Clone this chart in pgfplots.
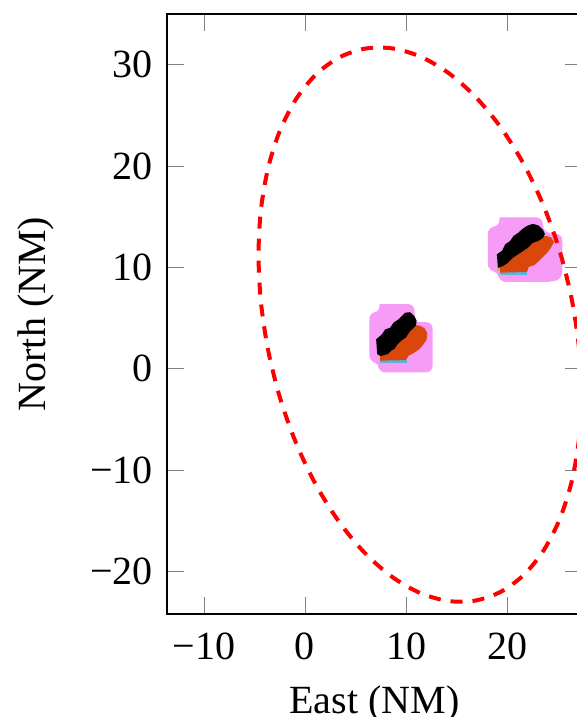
\documentclass[border=0pt]{standalone}
\usepackage{fontspec}
\setmainfont{Liberation Serif}
\usepackage{pgfplots}
\pgfplotsset{compat=1.18}
\definecolor{cmag}{RGB}{246,156,246}
\definecolor{corange}{RGB}{217,72,10}
\definecolor{ccyan}{RGB}{90,180,220}
\definecolor{cyel}{RGB}{200,190,60}
\begin{document}
\begin{tikzpicture}
\useasboundingbox (-41.75pt,-25.75pt) rectangle (102.5pt,153.5pt);
\clip (-41.75pt,-25.75pt) rectangle (102.5pt,153.5pt);
\begin{axis}[
  at={(0,0)}, anchor=south west,
  scale only axis, width=103.7pt, height=150pt,
  xmin=-13.66, xmax=27.4, ymin=-24.2, ymax=35,
  xtick={-10,0,10,20}, xticklabels={−10,0,10,20},
  ytick={-20,-10,0,10,20,30}, yticklabels={−20,−10,0,10,20,30},
  xticklabel style={yshift=-1.2pt},
  xlabel={East (NM)}, ylabel={North (NM)},
  xlabel style={at={(axis description cs:0.5,0)}, anchor=base, yshift=-24.9pt},
  ylabel style={at={(axis description cs:-0.317,0.5)}, anchor=center},
  no markers,
]
% cluster 1
\addplot[fill=cmag, draw=cmag, line width=0.3pt, rounded corners=1.5pt] coordinates {(7.43,6.32) (10.79,6.32) (10.79,4.54) (12.57,4.54) (12.57,-0.30) (7.33,-0.30) (7.33,0.69) (6.44,0.69) (6.44,5.53) (7.43,5.53) (7.43,6.32)};
\addplot[fill=ccyan, draw=none] coordinates {(7.43,0.58) (10.07,0.58) (10.07,0.85) (7.43,0.85)};
\addplot[fill=cyel, draw=none] coordinates {(7.10,1.21) (7.38,1.21) (7.38,2.75) (7.10,2.75)};
\addplot[fill=corange, draw=none] coordinates {(7.43,1.45) (8.09,1.70) (8.42,1.95) (8.74,2.15) (9.08,2.60) (9.41,2.95) (9.90,3.30) (10.23,3.70) (10.56,4.00) (10.89,4.30) (11.39,4.25) (11.85,3.98) (12.10,3.52) (12.03,2.86) (11.66,2.32) (11.26,1.88) (10.76,1.55) (10.26,1.30) (10.00,0.85) (7.43,0.80)};
\addplot[fill=black, draw=none] coordinates {(7.04,2.90) (7.61,3.39) (7.94,3.88) (8.43,4.05) (8.76,4.54) (9.26,4.87) (9.59,5.20) (9.92,5.53) (10.40,5.58) (10.83,5.20) (11.04,4.75) (11.00,4.30) (10.66,3.95) (10.33,3.62) (10.00,3.10) (9.51,2.76) (9.18,2.44) (8.84,1.94) (8.52,1.78) (8.19,1.45) (7.50,1.25) (7.15,1.45)};
% cluster 2
\addplot[fill=cmag, draw=cmag, line width=0.3pt, rounded corners=1.5pt] coordinates {(19.31,14.88) (23.43,14.88) (23.60,13.40) (25.41,13.23) (25.41,8.95) (24.42,8.62) (19.31,8.62) (19.14,9.61) (18.15,9.77) (18.15,13.89) (19.31,14.05) (19.31,14.88)};
\addplot[fill=ccyan, draw=none] coordinates {(19.31,9.26) (21.95,9.26) (21.95,9.50) (19.31,9.50)};
\addplot[fill=cyel, draw=none] coordinates {(19.01,9.61) (19.31,9.61) (19.31,11.15) (19.01,11.15)};
\addplot[fill=corange, draw=none] coordinates {(19.31,10.20) (19.97,10.65) (20.46,11.10) (20.96,11.45) (21.46,11.78) (21.95,12.12) (22.44,12.60) (22.94,12.77) (23.43,13.05) (23.93,13.10) (24.36,12.95) (24.65,12.50) (24.32,11.90) (23.98,11.45) (23.58,11.05) (23.15,10.62) (22.70,10.22) (22.14,10.05) (21.98,9.55) (19.31,9.48)};
\addplot[fill=black, draw=none] coordinates {(18.99,11.29) (19.49,11.62) (19.82,12.27) (20.31,12.61) (20.64,13.10) (21.14,13.43) (21.47,13.75) (21.96,14.09) (22.55,14.30) (23.15,14.12) (23.55,13.72) (23.75,13.28) (23.55,12.90) (23.04,12.58) (22.54,12.42) (22.05,11.92) (21.56,11.60) (21.06,11.27) (20.56,10.94) (20.07,10.44) (19.58,10.12) (19.10,9.95)};
% ellipse
\addplot[red, line width=1pt, dash pattern=on 3pt off 2.5pt, smooth] coordinates {
(27.350,-2.536) (27.107,2.165) (26.387,6.932) (25.209,11.622) (23.612,16.090) (21.644,20.200) (19.363,23.830) (16.838,26.869) (14.148,29.223) (11.375,30.820) (8.602,31.613) (5.912,31.579) (3.388,30.716) (1.106,29.052) (-0.862,26.640) (-2.459,23.548) (-3.637,19.874) (-4.357,15.727) (-4.600,11.236) (-4.357,6.535) (-3.637,1.768) (-2.459,-2.922) (-0.862,-7.390) (1.106,-11.500) (3.388,-15.130) (5.912,-18.169) (8.602,-20.523) (11.375,-22.120) (14.148,-22.913) (16.838,-22.879) (19.363,-22.016) (21.644,-20.352) (23.612,-17.940) (25.209,-14.848) (26.387,-11.174) (27.107,-7.027) (27.350,-2.536)};
\end{axis}
\end{tikzpicture}
\end{document}
